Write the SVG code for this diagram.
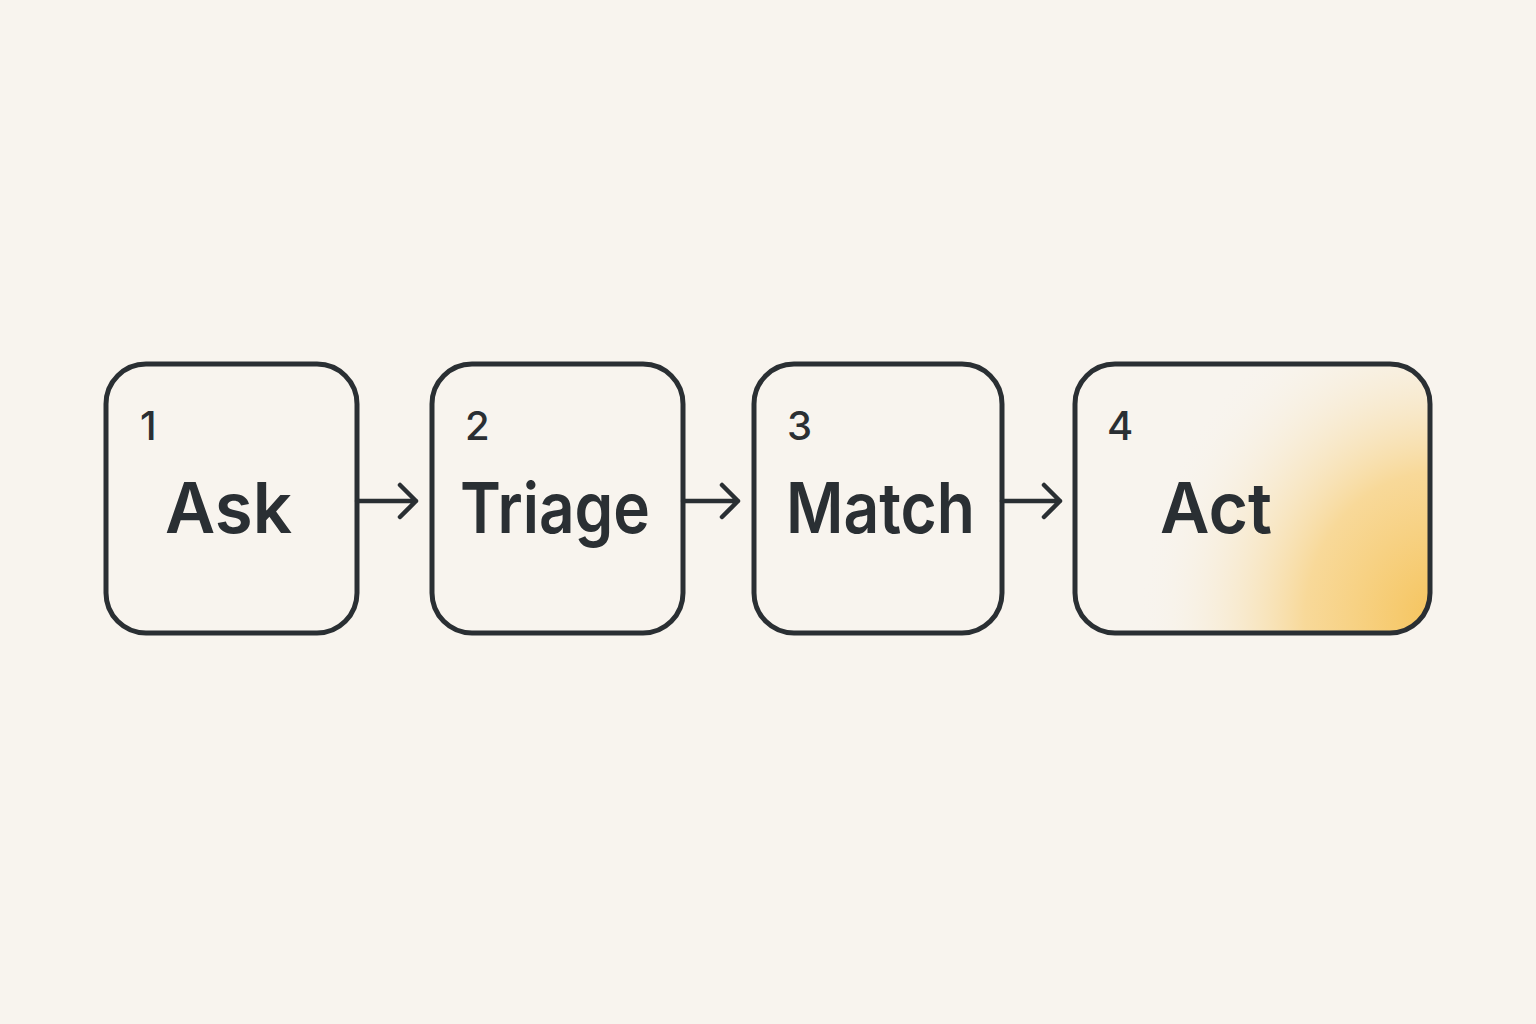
<svg xmlns="http://www.w3.org/2000/svg" width="1536" height="1024" viewBox="0 0 1536 1024">
<style>
.box{fill:none;stroke:#2a2f33;stroke-width:5}
.num{font-family:Inter,"Liberation Sans",sans-serif;font-size:40px;font-weight:500;fill:#2a2f33}
.lbl{font-family:Inter,"Liberation Sans",sans-serif;font-size:70px;font-weight:600;fill:#2a2f33}
.con{fill:none;stroke:#2a2f33;stroke-width:4.5;stroke-linecap:round;stroke-linejoin:round}
</style>
<defs>
<radialGradient id="g" gradientUnits="userSpaceOnUse" cx="1440" cy="620" r="300" gradientTransform="translate(1440 620) scale(1 1.1) translate(-1440 -620)">
<stop offset="0" stop-color="#f5c35a"/>
<stop offset="0.45" stop-color="#f8d48a" stop-opacity="0.85"/>
<stop offset="1" stop-color="#f8f4ee" stop-opacity="0"/>
</radialGradient>
</defs>
<rect width="1536" height="1024" fill="#f8f4ee"/>
<g id="n1"><rect class="box" x="106" y="364" width="251" height="269" rx="40"/><text class="num" x="140" y="440">1</text><text class="lbl" x="165" y="533" textLength="127" lengthAdjust="spacingAndGlyphs">Ask</text></g>
<g id="n2"><rect class="box" x="432" y="364" width="251" height="269" rx="40"/><text class="num" x="465" y="440">2</text><text class="lbl" x="460" y="533" textLength="190" lengthAdjust="spacingAndGlyphs">Triage</text></g>
<g id="n3"><rect class="box" x="754" y="364" width="248" height="269" rx="40"/><text class="num" x="787" y="440">3</text><text class="lbl" x="786" y="533" textLength="189" lengthAdjust="spacingAndGlyphs">Match</text></g>
<g id="n4"><rect x="1075" y="364" width="355" height="269" rx="40" fill="url(#g)"/><rect class="box" x="1075" y="364" width="355" height="269" rx="40"/><text class="num" x="1107" y="440">4</text><text class="lbl" x="1160" y="533" textLength="112" lengthAdjust="spacingAndGlyphs">Act</text></g>
<g id="connectors">
<path class="con" d="M357 501H416M400 485L416 501L400 517"/>
<path class="con" d="M683 501H738M722 485L738 501L722 517"/>
<path class="con" d="M1002 501H1060M1044 485L1060 501L1044 517"/>
</g>
</svg>
